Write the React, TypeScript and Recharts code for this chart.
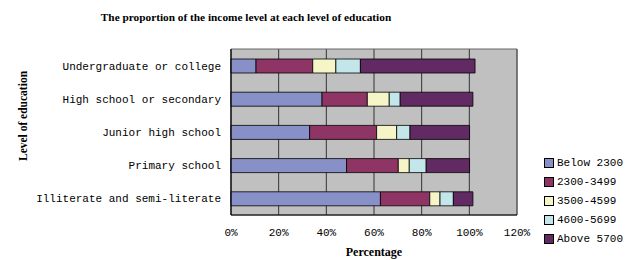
import React from "react";
import { BarChart, Bar, XAxis, YAxis, CartesianGrid, Label, ReferenceArea } from "recharts";

const categories = [
  "Undergraduate or college",
  "High school or secondary",
  "Junior high school",
  "Primary school",
  "Illiterate and semi-literate",
];
const seriesNames = ["Below 2300", "2300-3499", "3500-4599", "4600-5699", "Above 5700"];
const below2300 = [10.5, 38.2, 33.0, 48.5, 62.7];
const s2300_3499 = [23.8, 19.0, 28.1, 21.7, 20.7];
const s3500_4599 = [9.7, 9.2, 8.4, 4.6, 4.3];
const s4600_5699 = [10.3, 4.6, 5.6, 7.1, 5.6];
const above5700 = [48.1, 30.5, 25.0, 18.2, 8.2];
const xTicks = [0, 20, 40, 60, 80, 100, 120];

const colors = ["#8890C8", "#8E3566", "#F5F5C8", "#C2E6EA", "#622A62"];
const keys = ["a", "b", "c", "d", "e"];

const data = categories.map((name, i) => ({
  name,
  a: below2300[i],
  b: s2300_3499[i],
  c: s3500_4599[i],
  d: s4600_5699[i],
  e: above5700[i],
}));

const mono = "'Liberation Mono', 'DejaVu Sans Mono', monospace";
const serif = "'Liberation Serif', 'Times New Roman', serif";

export default function App() {
  return (
    <div style={{ position: "absolute", left: 0, top: 0, width: 641, height: 260, background: "#fff" }}>
      <div
        style={{
          position: "absolute",
          left: 0,
          width: 492,
          top: 11,
          textAlign: "center",
          fontFamily: serif,
          fontWeight: "bold",
          fontSize: 11.3,
          color: "#000",
        }}
      >
        The proportion of the income level at each level of education
      </div>
      <div
        style={{
          position: "absolute",
          left: 23,
          top: 116,
          transform: "translate(-50%, -50%) rotate(-90deg)",
          whiteSpace: "nowrap",
          fontFamily: serif,
          fontWeight: "bold",
          fontSize: 11.5,
          color: "#000",
        }}
      >
        Level of education
      </div>
      <BarChart
        width={641}
        height={260}
        data={data}
        layout="vertical"
        margin={{ top: 49, right: 124, bottom: 15, left: 0 }}
        barCategoryGap="29%"
      >
        <CartesianGrid horizontal={false} stroke="#333" fill="#C0C0C0" strokeWidth={1} />
        <XAxis
          type="number"
          domain={[0, 120]}
          ticks={xTicks}
          height={30}
          tickFormatter={(v: number) => `${v}%`}
          tickSize={0}
          tickMargin={13}
          axisLine={{ stroke: "#000" }}
          tick={{ fill: "#000", fontFamily: mono, fontSize: 11 }}
        >
          <Label
            value="Percentage"
            position="bottom"
            offset={2}
            style={{ fontFamily: serif, fontWeight: "bold", fontSize: 12, fill: "#000" }}
          />
        </XAxis>
        <YAxis
          type="category"
          dataKey="name"
          width={231}
          tickSize={0}
          tickMargin={10}
          axisLine={{ stroke: "#000" }}
          tick={{ fill: "#000", fontFamily: mono, fontSize: 11 }}
        />
        <ReferenceArea x1={0} x2={120} fill="none" stroke="#666" strokeWidth={1} ifOverflow="visible" />
        {keys.map((k, i) => (
          <Bar
            key={k}
            dataKey={k}
            name={seriesNames[i]}
            stackId="s"
            fill={colors[i]}
            stroke="#000"
            strokeWidth={0.8}
            barSize={14}
            isAnimationActive={false}
          />
        ))}
      </BarChart>
      <div style={{ position: "absolute", left: 544, top: 153 }}>
        {seriesNames.map((n, i) => (
          <div key={n} style={{ display: "flex", alignItems: "center", height: 19 }}>
            <div
              style={{
                width: 8,
                height: 8,
                background: colors[i],
                border: "1px solid #000",
                marginRight: 3,
              }}
            />
            <span style={{ fontFamily: mono, fontSize: 11, color: "#000" }}>{n}</span>
          </div>
        ))}
      </div>
    </div>
  );
}
